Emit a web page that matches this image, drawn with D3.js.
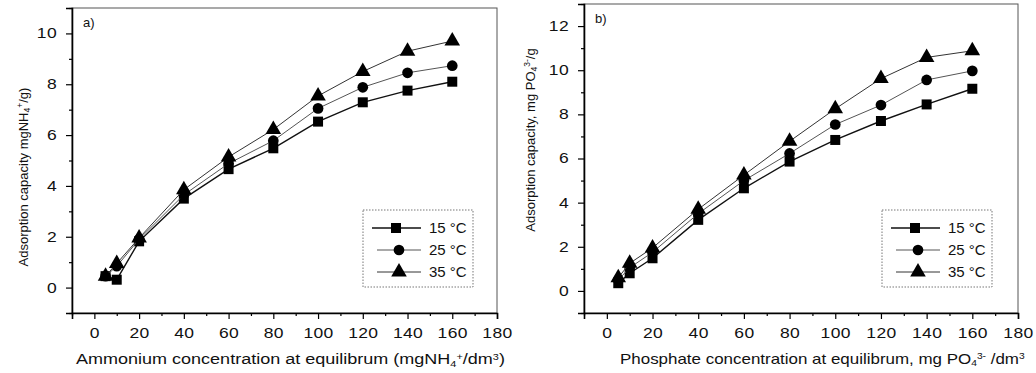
<!DOCTYPE html>
<html><head><meta charset="utf-8">
<script src="https://cdn.jsdelivr.net/npm/d3@7"></script>
<style>
body{margin:0;background:#fff;}
text{font-family:"Liberation Sans",Arial,sans-serif;fill:#111;}
</style></head>
<body><svg id="c" width="1036" height="373"></svg>
<script>
// ---- data ----
const xValues = [5,10,20,40,60,80,100,120,140,160];
const seriesNames = ["15 °C","25 °C","35 °C"];
const ammonium15 = [0.45,0.31,1.82,3.5,4.66,5.48,6.53,7.29,7.75,8.1];
const ammonium25 = [0.45,0.84,1.9,3.65,4.88,5.78,7.05,7.88,8.45,8.73];
const ammonium35 = [0.45,0.95,1.95,3.85,5.14,6.22,7.54,8.5,9.3,9.7];
const phosphate15 = [0.35,0.8,1.48,3.22,4.65,5.86,6.84,7.7,8.45,9.16];
const phosphate25 = [0.5,1.05,1.75,3.5,5.0,6.23,7.54,8.42,9.56,9.97];
const phosphate35 = [0.6,1.25,1.95,3.7,5.25,6.78,8.25,9.62,10.58,10.88];
const xTicks = [0,20,40,60,80,100,120,140,160,180];
const yTicksA = [0,2,4,6,8,10];
const yTicksB = [0,2,4,6,8,10,12];

const svg = d3.select("#c");

const panels = [
  {left:72, right:497, top:8, bottom:313, xDom:[-10,180], yDom:[-1,11], yTicks:yTicksA,
   series:[ammonium15, ammonium25, ammonium35], label:"a)",
   legend:{x0:363,x1:473,y0:210,y1:287},
   yTitle:{x:28,y:177, parts:[["Adsorption capacity  mgNH",0],["4",1],["+",2],["/g)",0]]},
   xTitle:{x0:76,x1:505,y:364, parts:[["Ammonium concentration at equilibrum (mgNH",0],["4",1],["+",2],["/dm",0],["3",2],[")",0]]}},
  {left:584, right:1018, top:4, bottom:313, xDom:[-10,180], yDom:[-1,13], yTicks:yTicksB,
   series:[phosphate15, phosphate25, phosphate35], label:"b)",
   legend:{x0:882,x1:992,y0:210,y1:287},
   yTitle:{x:535,y:140, parts:[["Adsorption capacity,  mg PO",0],["4",1],["3-",2],["/g",0]]},
   xTitle:{x0:620,x1:1025,y:364, parts:[["Phosphate concentration at equilibrum,  mg PO",0],["4",1],["3-",2],[" /dm",0],["3",2]]}}
];

const symbols = [d3.symbolSquare, d3.symbolCircle, d3.symbolTriangle];
const symSizes = [100, 90, 105];
const lineStyles = [{c:"#111",w:1.4},{c:"#555",w:1},{c:"#333",w:1}];
const glyphStretch = 1.25;

function addParts(t, parts){
  parts.forEach(([s,k])=>{
    const ts = t.append("tspan").text(s);
    if(k===1) ts.attr("baseline-shift","-25%").attr("font-size","8.5px");
    if(k===2) ts.attr("baseline-shift","55%").attr("font-size","8.5px");
  });
}

panels.forEach(p=>{
  const x = d3.scaleLinear().domain(p.xDom).range([p.left,p.right]);
  const y = d3.scaleLinear().domain(p.yDom).range([p.bottom,p.top]);
  const g = svg.append("g");
  g.append("rect").attr("x",p.left).attr("y",p.top).attr("width",p.right-p.left).attr("height",p.bottom-p.top)
    .attr("fill","none").attr("stroke","#555").attr("stroke-width",1);
  const xa = g.append("g").attr("transform",`translate(0,${p.bottom})`)
    .call(d3.axisBottom(x).tickValues(xTicks).tickSize(6).tickPadding(9).tickFormat(d3.format("d")));
  g.append("g").attr("transform",`translate(0,${p.bottom})`)
    .call(d3.axisBottom(x).tickValues(d3.range(-10,181,10).filter(v=>v%20!==0)).tickSize(3).tickFormat(""))
    .select(".domain").remove();
  const ya = g.append("g").attr("transform",`translate(${p.left},0)`)
    .call(d3.axisLeft(y).tickValues(p.yTicks).tickSize(6).tickPadding(9).tickFormat(d3.format("d")));
  g.append("g").attr("transform",`translate(${p.left},0)`)
    .call(d3.axisLeft(y).tickValues(d3.range(p.yDom[0],p.yDom[1]+0.1,1).filter(v=>v%2!==0)).tickSize(3).tickFormat(""))
    .select(".domain").remove();
  g.selectAll(".domain").attr("stroke","#000").attr("stroke-width",1.6);
  g.selectAll(".tick line").attr("stroke","#000").attr("stroke-width",1.2);
  g.selectAll(".tick text").attr("font-size","14px")
    .attr("font-family","Liberation Sans, Arial, sans-serif").attr("fill","#111");
  xa.selectAll(".tick text").attr("transform",`scale(${glyphStretch},1)`).attr("letter-spacing","0.3px");
  ya.selectAll(".tick text").attr("x",-15/glyphStretch).attr("transform",`scale(${glyphStretch},1)`).attr("letter-spacing","0.3px");

  g.append("text").attr("x",x(-10)+11).attr("y",p.top+19).attr("font-size","13px").text(p.label);

  p.series.forEach((vals,i)=>{
    const pts = xValues.map((xv,j)=>[xv,vals[j]]);
    g.append("path").datum(pts)
      .attr("d",d3.line().x(d=>x(d[0])).y(d=>y(d[1])))
      .attr("fill","none").attr("stroke",lineStyles[i].c).attr("stroke-width",lineStyles[i].w);
    g.selectAll(null).data(pts).enter().append("path")
      .attr("transform",d=>`translate(${x(d[0])},${y(d[1])})`)
      .attr("d",d3.symbol().type(symbols[i]).size(symSizes[i]))
      .attr("fill","#000");
  });

  const L = p.legend;
  g.append("rect").attr("x",L.x0).attr("y",L.y0).attr("width",L.x1-L.x0).attr("height",L.y1-L.y0)
    .attr("fill","#fff").attr("stroke","#777").attr("stroke-width",1).attr("stroke-dasharray","1.5,1.5");
  seriesNames.forEach((nm,i)=>{
    const ly = L.y0 + 18 + i*22;
    const lx0 = L.x0 + (i===0?9:14), lx1 = L.x0 + 58;
    const mx = L.x0 + (i===0?33:36);
    g.append("line").attr("x1",lx0).attr("x2",lx1).attr("y1",ly).attr("y2",ly)
      .attr("stroke",lineStyles[i].c).attr("stroke-width",lineStyles[i].w);
    g.append("path").attr("transform",`translate(${mx},${ly})`)
      .attr("d",d3.symbol().type(symbols[i]).size(symSizes[i])).attr("fill","#000");
    g.append("text").attr("x",L.x0+66).attr("y",ly+5).attr("font-size","15px").text(nm);
  });

  const yt = g.append("text").attr("transform",`translate(${p.yTitle.x},${p.yTitle.y}) rotate(-90)`)
    .attr("text-anchor","middle").attr("font-size","13px");
  addParts(yt,p.yTitle.parts);
  const xt = g.append("text").attr("x",0).attr("y",0)
    .attr("text-anchor","start").attr("font-size","14px");
  addParts(xt,p.xTitle.parts);
  const w = xt.node().getComputedTextLength();
  const sx = (p.xTitle.x1-p.xTitle.x0)/w;
  xt.attr("transform",`translate(${p.xTitle.x0},${p.xTitle.y}) scale(${sx.toFixed(3)},1)`);
});
</script></body></html>
